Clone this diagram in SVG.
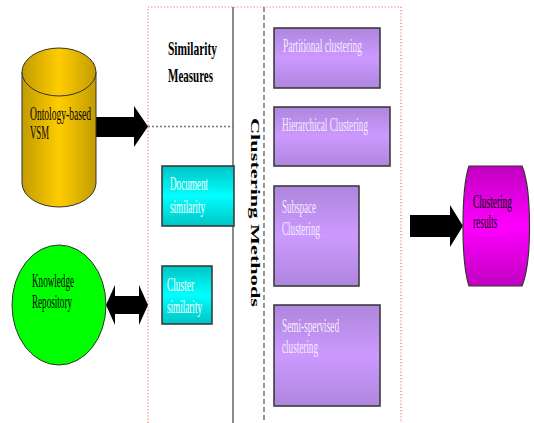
<svg xmlns="http://www.w3.org/2000/svg" width="534" height="423" viewBox="0 0 534 423">
  <defs>
    <linearGradient id="gold" x1="0" y1="0" x2="1" y2="0">
      <stop offset="0" stop-color="#c29c00"/>
      <stop offset="0.5" stop-color="#ffcc00"/>
      <stop offset="1" stop-color="#c29c00"/>
    </linearGradient>
    <linearGradient id="purple" x1="0" y1="0" x2="0" y2="1">
      <stop offset="0" stop-color="#ae86dc"/>
      <stop offset="0.5" stop-color="#cc99ff"/>
      <stop offset="1" stop-color="#ae86dc"/>
    </linearGradient>
    <linearGradient id="cyan" x1="0" y1="0" x2="0" y2="1">
      <stop offset="0" stop-color="#00c4c4"/>
      <stop offset="0.5" stop-color="#00ffff"/>
      <stop offset="1" stop-color="#00c4c4"/>
    </linearGradient>
    <linearGradient id="magenta" x1="0" y1="0" x2="0" y2="1">
      <stop offset="0" stop-color="#c000c0"/>
      <stop offset="0.5" stop-color="#ff00ff"/>
      <stop offset="1" stop-color="#c000c0"/>
    </linearGradient>
  </defs>
  <style>
    text { font-family: "Liberation Serif", "Times New Roman", serif; }
    .lbl { font-size: 18px; fill: #000; }
    .wht { font-size: 18px; fill: #ffffff; }
    .lav { font-size: 18px; fill: #f4ecff; }
    .hd { font-size: 19px; font-weight: bold; fill: #000; }
    .vt { font-size: 13px; font-weight: bold; fill: #000; }
    .box { stroke: #333; stroke-width: 1.5; }
    .arrow { fill: #000; }
  </style>

  <rect width="534" height="423" fill="#ffffff"/>

  <!-- frame and dividers -->
  <g id="frame" fill="none">
    <path d="M148,423 V7 H401 V423" stroke="#ff7070" stroke-width="1.2" stroke-dasharray="1.2,2"/>
    <line x1="233" y1="7" x2="233" y2="423" stroke="#8a8a8a" stroke-width="2"/>
    <line x1="264" y1="7" x2="264" y2="423" stroke="#7a7a7a" stroke-width="1.6" stroke-dasharray="5,3"/>
  </g>

  <!-- connectors -->
  <g id="connectors">
    <polygon class="arrow" points="96,117 134,117 134,106 148,126.5 134,147 134,137 96,137"/>
    <line x1="148" y1="126.5" x2="233" y2="126.5" stroke="#7a7a7a" stroke-width="1.6" stroke-dasharray="2,2"/>
    <polygon class="arrow" points="106,305 115,285 115,296 139,296 139,285 148,305 139,325 139,314 115,314 115,325"/>
    <polygon class="arrow" points="410,215 450,215 450,205 463,226 450,247 450,237 410,237"/>
  </g>

  <g id="vsm">
    <path d="M22,72 V183 A37,24 0 0 0 96,183 V72 Z" fill="url(#gold)" stroke="#333" stroke-width="1"/>
    <ellipse cx="59" cy="72" rx="37" ry="24" fill="url(#gold)" stroke="#333" stroke-width="1"/>
    <text class="lbl" x="30" y="120" textLength="61" lengthAdjust="spacingAndGlyphs">Ontology-based</text>
    <text class="lbl" x="30" y="139" textLength="19" lengthAdjust="spacingAndGlyphs">VSM</text>
  </g>

  <g id="knowledge">
    <ellipse cx="59" cy="305" rx="47" ry="60" fill="#00ff00" stroke="#333" stroke-width="1"/>
    <text class="lbl" x="32" y="287" textLength="42" lengthAdjust="spacingAndGlyphs">Knowledge</text>
    <text class="lbl" x="32" y="308" textLength="40" lengthAdjust="spacingAndGlyphs">Repository</text>
  </g>

  <g id="similarity-measures">
    <text class="hd" x="168" y="55" textLength="49" lengthAdjust="spacingAndGlyphs">Similarity</text>
    <text class="hd" x="168" y="82" textLength="45" lengthAdjust="spacingAndGlyphs">Measures</text>
  </g>

  <g id="document-similarity">
    <rect class="box" x="162" y="166" width="72" height="60" fill="url(#cyan)"/>
    <text class="wht" x="170" y="190" textLength="38" lengthAdjust="spacingAndGlyphs">Document</text>
    <text class="wht" x="170" y="213" textLength="35" lengthAdjust="spacingAndGlyphs">similarity</text>
  </g>

  <g id="cluster-similarity">
    <rect class="box" x="162" y="266" width="50" height="58" fill="url(#cyan)"/>
    <text class="wht" x="167" y="291" textLength="27" lengthAdjust="spacingAndGlyphs">Cluster</text>
    <text class="wht" x="167" y="313" textLength="35" lengthAdjust="spacingAndGlyphs">similarity</text>
  </g>

  <g id="clustering-methods">
    <text class="vt" transform="translate(251,118) rotate(90)" textLength="189" lengthAdjust="spacingAndGlyphs">Clustering Methods</text>
  </g>

  <g id="partitional">
    <rect class="box" x="274" y="28" width="106" height="60" fill="url(#purple)"/>
    <text class="lav" x="283" y="52" textLength="79" lengthAdjust="spacingAndGlyphs">Partitional clustering</text>
  </g>

  <g id="hierarchical">
    <rect class="box" x="274" y="107" width="116" height="59" fill="url(#purple)"/>
    <text class="lav" x="282" y="131" textLength="86" lengthAdjust="spacingAndGlyphs">Hierarchical Clustering</text>
  </g>

  <g id="subspace">
    <rect class="box" x="274" y="186" width="85" height="100" fill="url(#purple)"/>
    <text class="lav" x="282" y="213" textLength="34" lengthAdjust="spacingAndGlyphs">Subspace</text>
    <text class="lav" x="282" y="235" textLength="38" lengthAdjust="spacingAndGlyphs">Clustering</text>
  </g>

  <g id="semi-supervised">
    <rect class="box" x="274" y="305" width="106" height="101" fill="url(#purple)"/>
    <text class="lav" x="282" y="332" textLength="57" lengthAdjust="spacingAndGlyphs">Semi-spervised</text>
    <text class="lav" x="282" y="353" textLength="36" lengthAdjust="spacingAndGlyphs">clustering</text>
  </g>

  <g id="results">
    <path d="M469,166 H522 C532,190 532,262 522,286 H469 C461,262 461,190 469,166 Z" fill="url(#magenta)" stroke="#333" stroke-width="1.2"/>
    <text class="lbl" transform="translate(473,208) scale(0.52,1)">Clustering</text>
    <text class="lbl" transform="translate(473,228) scale(0.52,1)">results</text>
  </g>
</svg>
